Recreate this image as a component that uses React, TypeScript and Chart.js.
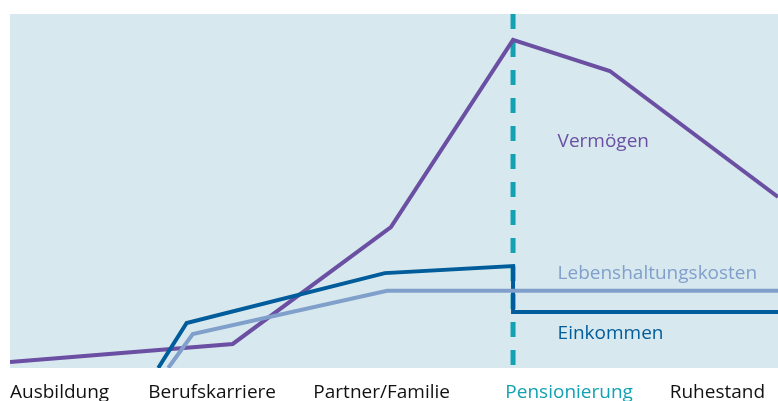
import React, { useEffect, useRef } from "react";
import { Chart, registerables } from "chart.js";
Chart.register(...registerables);

// Data (x: life-phase axis 0..100, y: relative amount 0..100)
const vermoegenX = [0, 29.0, 49.6, 65.5, 78.1, 100];
const vermoegenY = [1.7, 6.8, 39.8, 92.7, 83.9, 48.3];
const einkommenX = [19.3, 23.0, 48.8, 65.5, 65.5, 100];
const einkommenY = [0, 12.7, 26.8, 28.8, 15.8, 15.8];
const kostenX = [20.6, 23.8, 49.1, 100];
const kostenY = [0, 9.6, 21.8, 21.8];
const phaseLabels = ["Ausbildung", "Berufskarriere", "Partner/Familie", "Pensionierung", "Ruhestand"];
const phaseStarts = [0, 18.0, 39.5, 64.5, 85.9];
const retirementX = 65.5;
const seriesNames = ["Vermögen", "Einkommen", "Lebenshaltungskosten"];

const PURPLE = "#6a4fa2";
const DARKBLUE = "#005c9a";
const LIGHTBLUE = "#809fcb";
const TEAL = "#12a2b2";
const BG = "#d7e9ee";
const FONT = "'Open Sans', 'Noto Sans', sans-serif";

const toPts = (xs: number[], ys: number[]) => xs.map((x, i) => ({ x, y: ys[i] }));

export default function App() {
  const ref = useRef<HTMLCanvasElement | null>(null);
  useEffect(() => {
    document.body.style.margin = "0";
    const labelsPlugin = {
      id: "decor",
      beforeDraw(chart: any) {
        const { ctx, chartArea } = chart;
        ctx.save();
        ctx.fillStyle = BG;
        ctx.fillRect(chartArea.left, chartArea.top, chartArea.right - chartArea.left, chartArea.bottom - chartArea.top);
        ctx.restore();
      },
      beforeDatasetsDraw(chart: any) {
        const { ctx, chartArea, scales } = chart;
        const x = scales.x.getPixelForValue(retirementX);
        ctx.save();
        ctx.strokeStyle = TEAL;
        ctx.lineWidth = 5;
        ctx.setLineDash([15, 13]);
        ctx.beginPath();
        ctx.moveTo(x, chartArea.top);
        ctx.lineTo(x, chartArea.bottom);
        ctx.stroke();
        ctx.restore();
      },
      afterDatasetsDraw(chart: any) {
        const { ctx, scales, chartArea } = chart;
        ctx.save();
        ctx.font = `19px ${FONT}`;
        ctx.textBaseline = "alphabetic";
        ctx.textAlign = "left";
        const lx = scales.x.getPixelForValue(71.3);
        ctx.fillStyle = PURPLE;
        ctx.fillText(seriesNames[0], lx, scales.y.getPixelForValue(62.5));
        ctx.fillStyle = LIGHTBLUE;
        ctx.fillText(seriesNames[2], lx, scales.y.getPixelForValue(25.2));
        ctx.fillStyle = DARKBLUE;
        ctx.fillText(seriesNames[1], lx, scales.y.getPixelForValue(8.3));
        phaseLabels.forEach((t, i) => {
          ctx.fillStyle = i === 3 ? TEAL : "#111111";
          ctx.fillText(t, scales.x.getPixelForValue(phaseStarts[i]), chartArea.bottom + 30);
        });
        ctx.restore();
      },
    };
    const chart = new Chart(ref.current!, {
      type: "line",
      data: {
        datasets: [
          { label: seriesNames[2], data: toPts(kostenX, kostenY), borderColor: LIGHTBLUE, borderWidth: 4, pointRadius: 0, tension: 0, borderJoinStyle: "miter" },
          { label: seriesNames[1], data: toPts(einkommenX, einkommenY), borderColor: DARKBLUE, borderWidth: 4, pointRadius: 0, tension: 0, borderJoinStyle: "miter" },
          { label: seriesNames[0], data: toPts(vermoegenX, vermoegenY), borderColor: PURPLE, borderWidth: 4, pointRadius: 0, tension: 0, borderJoinStyle: "miter" },
        ],
      },
      options: {
        animation: false,
        responsive: false,
        maintainAspectRatio: false,
        layout: { padding: { left: 10, right: 0, top: 14, bottom: 33 } },
        plugins: { legend: { display: false }, tooltip: { enabled: false } },
        scales: {
          x: { type: "linear", min: 0, max: 100, display: false },
          y: { type: "linear", min: 0, max: 100, display: false },
        },
      },
      plugins: [labelsPlugin],
    } as any);
    return () => chart.destroy();
  }, []);
  return <canvas ref={ref} width={778} height={401} style={{ display: "block" }} />;
}
